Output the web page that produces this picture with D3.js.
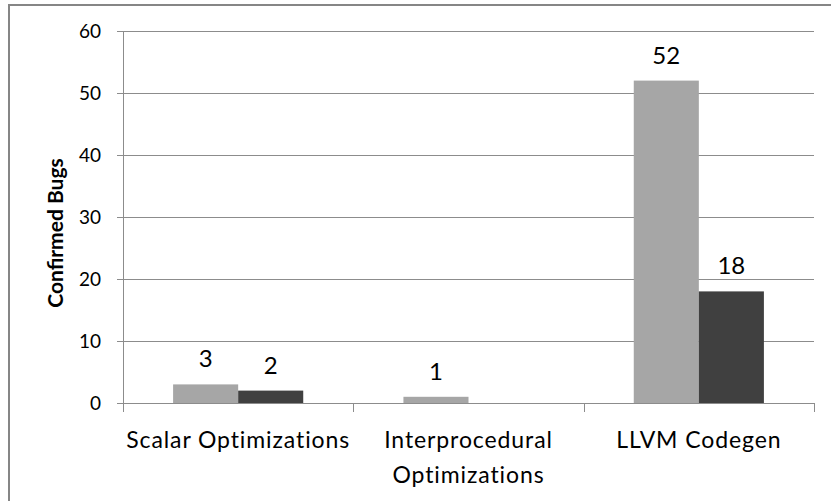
<!DOCTYPE html>
<html>
<head>
<meta charset="utf-8">
<script src="https://cdn.jsdelivr.net/npm/d3@7/dist/d3.min.js"></script>
<style>
  html, body { margin: 0; padding: 0; background: #fff; }
  svg { display: block; font-family: Lato, "Open Sans", sans-serif; }
</style>
</head>
<body>
<svg id="chart" width="831" height="501"></svg>
<script>
// Confirmed bugs per compiler component, two series per group
const categories = ["Scalar Optimizations", "Interprocedural Optimizations", "LLVM Codegen"];
const categoryLines = [["Scalar Optimizations"], ["Interprocedural", "Optimizations"], ["LLVM Codegen"]];
const seriesA = [3, 1, 52];
const seriesB = [2, 0, 18];
const yTicks = [0, 10, 20, 30, 40, 50, 60];
const yTitle = "Confirmed Bugs";

const FONT = "Lato, 'Open Sans', sans-serif";
const svg = d3.select("#chart");
const margin = { left: 123, right: 17, top: 31, bottom: 98 };
const W = 831, H = 501;
const innerW = W - margin.left - margin.right;
const innerH = H - margin.top - margin.bottom;

// outer chart frame (extends past the right/bottom edges)
svg.append("rect")
  .attr("x", 9).attr("y", 5)
  .attr("width", 840).attr("height", 520)
  .attr("fill", "none").attr("stroke", "#868686").attr("stroke-width", 2);

const g = svg.append("g").attr("transform", `translate(${margin.left},${margin.top})`);

const x = d3.scaleBand().domain(categories).range([0, innerW]).paddingInner(0).paddingOuter(0);
const y = d3.scaleLinear().domain([0, 60]).range([innerH, 0]);

// group layout: two bars side by side, centered in each band
const x1 = d3.scaleBand().domain(["a", "b"]).range([0, x.bandwidth()]).paddingInner(0).paddingOuter(0.77);

// gridlines
g.append("g").selectAll("line").data(yTicks.filter(t => t > 0)).join("line")
  .attr("x1", -6).attr("x2", innerW)
  .attr("y1", d => Math.round(y(d)) + 0.5).attr("y2", d => Math.round(y(d)) + 0.5)
  .attr("stroke", "#8c8c8c").attr("stroke-width", 1);

// bars
const rows = categories.map((c, i) => ({ c, a: seriesA[i], b: seriesB[i] }));
const groups = g.append("g").selectAll("g").data(rows).join("g")
  .attr("transform", d => `translate(${x(d.c)},0)`);

groups.append("rect")
  .attr("x", x1("a")).attr("width", x1.bandwidth())
  .attr("y", d => y(d.a)).attr("height", d => innerH - y(d.a))
  .attr("fill", "#a6a6a6");
groups.append("rect")
  .attr("x", x1("b")).attr("width", x1.bandwidth())
  .attr("y", d => y(d.b)).attr("height", d => innerH - y(d.b))
  .attr("fill", "#404040");

// value labels
groups.filter(d => d.a > 0).append("text")
  .attr("x", x1("a") + x1.bandwidth() / 2).attr("y", d => y(d.a) - 17)
  .attr("text-anchor", "middle").attr("font-size", 24).attr("fill", "#000")
  .text(d => d.a);
groups.filter(d => d.b > 0).append("text")
  .attr("x", x1("b") + x1.bandwidth() / 2).attr("y", d => y(d.b) - 17)
  .attr("text-anchor", "middle").attr("font-size", 24).attr("fill", "#000")
  .text(d => d.b);

// y axis
const yAxis = g.append("g").call(d3.axisLeft(y).tickValues(yTicks).tickSize(6).tickSizeOuter(0));
yAxis.attr("font-family", FONT).attr("font-size", 19);
yAxis.select(".domain").attr("stroke", "#8c8c8c").attr("d", `M0.5,0V${innerH}`);
yAxis.selectAll(".tick line").attr("stroke", "#8c8c8c");
yAxis.selectAll(".tick text").attr("fill", "#000").attr("x", -22);

// x axis
const xAxis = g.append("g").attr("transform", `translate(0,${innerH})`);
xAxis.append("line").attr("x1", 0).attr("x2", innerW).attr("y1", 0.5).attr("y2", 0.5).attr("stroke", "#8c8c8c");
xAxis.selectAll("line.tk").data(d3.range(categories.length + 1)).join("line")
  .attr("class", "tk")
  .attr("x1", i => Math.round(i * x.bandwidth()) + 0.5).attr("x2", i => Math.round(i * x.bandwidth()) + 0.5)
  .attr("y1", 0).attr("y2", 9).attr("stroke", "#8c8c8c");

const catText = xAxis.selectAll("text.cat").data(categories).join("text")
  .attr("class", "cat")
  .attr("text-anchor", "middle").attr("font-size", 23).attr("letter-spacing", 0.9).attr("fill", "#000")
  .attr("transform", d => `translate(${x(d) + x.bandwidth() / 2},45)`);
catText.selectAll("tspan").data((d, i) => categoryLines[i]).join("tspan")
  .attr("x", 0).attr("dy", (d, i) => i === 0 ? 0 : 35).text(d => d);

// y axis title
svg.append("text")
  .attr("transform", `translate(63,233) rotate(-90)`)
  .attr("text-anchor", "middle").attr("font-size", 21).attr("font-weight", "bold").attr("fill", "#000")
  .text(yTitle);
</script>
</body>
</html>
